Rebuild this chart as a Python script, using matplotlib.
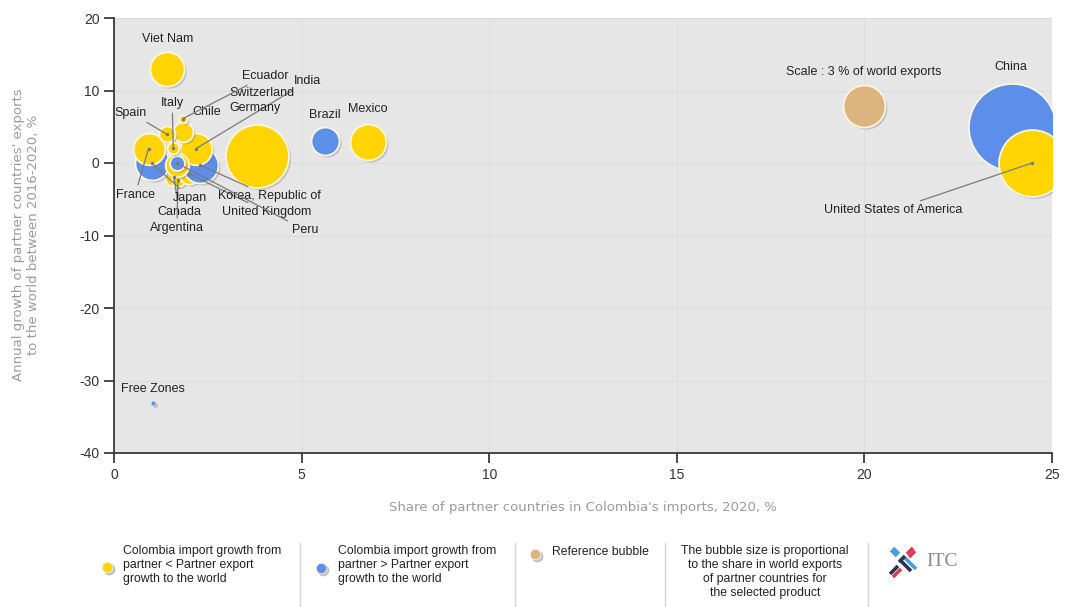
import matplotlib
matplotlib.use('Agg')
import matplotlib.pyplot as plt
from matplotlib import transforms
from matplotlib.lines import Line2D

plt.rcParams['axes.unicode_minus'] = False

# ---------------- data ----------------
countries = ["Canada", "Argentina", "United Kingdom", "Japan", "Korea, Republic of",
             "France", "India", "Switzerland", "Peru", "Chile", "Spain", "Italy",
             "Ecuador", "Viet Nam", "Germany", "Brazil", "Mexico", "China",
             "United States of America", "Free Zones"]
share_in_imports = [1.60, 1.70, 2.00, 1.00, 2.29,
                    0.92, 2.19, 1.67, 1.67, 1.85, 1.40, 1.58,
                    1.83, 1.40, 3.80, 5.63, 6.77, 23.94,
                    24.47, 1.05]
export_growth = [-1.9, -2.4, -1.5, 0.0, -0.3,
                 2.0, 2.0, -0.3, 0.0, 4.3, 4.0, 2.1,
                 6.1, 13.0, 0.9, 3.0, 2.9, 5.0,
                 0.0, -33.1]
world_export_share = [0.6, 0.3, 0.7, 1.97, 2.2,
                      1.71, 1.71, 0.95, 0.38, 0.68, 0.44, 0.24,
                      0.11, 2.0, 6.75, 1.33, 2.2, 12.9,
                      7.6, 0.04]
# 'lt': Colombia import growth < partner export growth ; 'gt': the opposite
growth_group = ["lt", "lt", "lt", "gt", "gt",
                "lt", "lt", "lt", "gt", "lt", "lt", "lt",
                "lt", "lt", "lt", "gt", "lt", "gt",
                "lt", "gt"]
reference_point = (20.0, 7.9)
reference_share = 3.0

x_ticks = [0, 5, 10, 15, 20, 25]
y_ticks = [-40, -30, -20, -10, 0, 10, 20]

# ---------------- layout / style ----------------
label_layout = {  # name: (text x, text y, draw leader line)
    "Viet Nam": (1.44, 17.1, False),
    "Ecuador": (4.03, 12.0, True),
    "India": (5.17, 11.3, True),
    "Switzerland": (3.95, 9.66, False),
    "Germany": (3.76, 7.59, False),
    "Spain": (0.45, 6.9, True),
    "Italy": (1.55, 8.28, True),
    "Chile": (2.48, 7.03, False),
    "Brazil": (5.63, 6.62, False),
    "Mexico": (6.77, 7.45, False),
    "China": (23.89, 13.24, False),
    "United States of America": (20.77, -6.48, True),
    "France": (0.56, -4.41, True),
    "Japan": (2.03, -4.83, True),
    "Korea, Republic of": (4.13, -4.55, True),
    "Canada": (1.73, -6.76, True),
    "United Kingdom": (4.08, -6.76, True),
    "Argentina": (1.68, -8.97, True),
    "Peru": (5.09, -9.24, True),
    "Free Zones": (1.04, -31.17, False),
}
COL = {"lt": "#FFD400", "gt": "#5C8EEA", "ref": "#DDB47F"}
K = 305.0  # marker area per % of world exports

W, H = 1070, 607
def P(px, py):
    return (px / W, 1 - py / H)

fig = plt.figure(figsize=(W / 100, H / 100), dpi=100)
ax = fig.add_axes([114 / W, 1 - 453 / H, (1052 - 114) / W, (453 - 18) / H])
ax.set_facecolor('#e6e6e6')
ax.set_xlim(0, 25)
ax.set_ylim(-40, 20)
ax.set_xticks(x_ticks)
ax.set_yticks(y_ticks)
ax.grid(True, color='#dcdcdc', lw=0.7)
ax.set_axisbelow(True)
for s in ['top', 'right']:
    ax.spines[s].set_visible(False)
for s in ['left', 'bottom']:
    ax.spines[s].set_color('#3a3a3a')
    ax.spines[s].set_linewidth(1.3)
ax.tick_params(length=7, width=1.3, color='#3a3a3a', labelsize=10, labelcolor='#333333')
for t in ax.get_xticklabels() + ax.get_yticklabels():
    t.set_fontfamily('Liberation Sans')

shadow_tr = transforms.offset_copy(ax.transData, fig=fig, x=2, y=-2, units='dots')

z = 3
for name, x, y, sh, g in zip(countries, share_in_imports, export_growth,
                             world_export_share, growth_group):
    ax.scatter([x], [y], s=K * sh, color='#777777', alpha=0.35, lw=0,
               transform=shadow_tr, zorder=z)
    ax.scatter([x], [y], s=K * sh, color=COL[g], edgecolor='#fbf6e0',
               lw=1.3 if sh > 0.1 else 0.3, zorder=z + 1)
    z += 2

# reference bubble
ax.scatter([reference_point[0]], [reference_point[1]], s=K * reference_share,
           color='#777777', alpha=0.35, lw=0, transform=shadow_tr, zorder=z)
ax.scatter([reference_point[0]], [reference_point[1]], s=K * reference_share,
           color=COL["ref"], edgecolor='#fbf6e0', lw=1.3, zorder=z + 1)
ax.text(19.97, 12.55, "Scale : 3 % of world exports", ha='center', va='center',
        fontsize=9, color='#222222', family='Liberation Sans', zorder=200)

zl = 150
for name, x, y in zip(countries, share_in_imports, export_growth):
    tx, ty, line = label_layout[name]
    if line:
        ax.annotate(name, xy=(x, y), xytext=(tx, ty), ha='center', va='center',
                    fontsize=9, color='#222222', family='Liberation Sans',
                    arrowprops=dict(arrowstyle='-', color='#7a7a7a', lw=0.9,
                                    shrinkA=1, shrinkB=0), zorder=zl)
        ax.scatter([x], [y], s=6, color='#777777', lw=0, zorder=zl - 1)
    else:
        ax.text(tx, ty, name, ha='center', va='center', fontsize=9,
                color='#222222', family='Liberation Sans', zorder=zl)

# axis titles
fig.text(*P(583, 507), "Share of partner countries in Colombia's imports, 2020, %",
         ha='center', va='center', fontsize=9.5, color='#9a9a9a', family='DejaVu Sans')
fig.text(*P(26, 235), "Annual growth of partner countries' exports\nto the world between 2016-2020, %",
         ha='center', va='center', rotation=90, fontsize=9.5, color='#9a9a9a',
         family='DejaVu Sans', linespacing=1.15)

# ---------------- legend strip ----------------
for sx in [300, 515, 665, 868]:
    fig.add_artist(Line2D([sx / W, sx / W], [1 - 543 / H, 1 - 607 / H],
                          color='#d6d6d6', lw=1))

def leg_dot(px, py, c):
    fig.add_artist(Line2D([(px + 1.5) / W], [1 - (py + 1.5) / H], marker='o',
                          markersize=7.5, color='#999999', alpha=0.5, lw=0))
    fig.add_artist(Line2D([px / W], [1 - py / H], marker='o', markersize=7.5,
                          color=c, markeredgecolor='#f5f0d8', markeredgewidth=0.6, lw=0))

leg_font = dict(fontsize=8.8, color='#222222', family='Liberation Sans', linespacing=1.2)
leg_dot(107, 567, COL["lt"])
fig.text(*P(123, 565), "Colombia import growth from\npartner < Partner export\ngrowth to the world",
         ha='left', va='center', **leg_font)
leg_dot(321, 568, COL["gt"])
fig.text(*P(338, 565), "Colombia import growth from\npartner > Partner export\ngrowth to the world",
         ha='left', va='center', **leg_font)
leg_dot(535, 554, COL["ref"])
fig.text(*P(552, 552), "Reference bubble", ha='left', va='center', **leg_font)
fig.text(*P(765, 572), "The bubble size is proportional\nto the share in world exports\nof partner countries for\nthe selected product",
         ha='center', va='center', **leg_font)

# ITC logo
segs = [((891, 550), (897, 556), '#4a9fd8'),
        ((893, 548), (899, 554), '#4a9fd8'),
        ((913, 548), (907, 554), '#d93a55'),
        ((915, 551), (909, 557), '#d93a55'),
        ((890, 574), (898, 566), '#2b3350'),
        ((893, 577), (901, 569), '#d93a55'),
        ((901, 561), (911, 571), '#2b3350'),
        ((905, 558), (916, 569), '#4a9fd8'),
        ((899, 562), (905, 556), '#2b3350')]
for (x0, y0), (x1, y1), c in segs:
    fig.add_artist(Line2D([x0 / W, x1 / W], [1 - y0 / H, 1 - y1 / H], color=c,
                          lw=2.6, solid_capstyle='butt'))
fig.text(*P(942, 561), "ITC", ha='center', va='center', fontsize=14,
         color='#8a8a8a', family='Liberation Serif')

fig.savefig('out.png', dpi=100)
